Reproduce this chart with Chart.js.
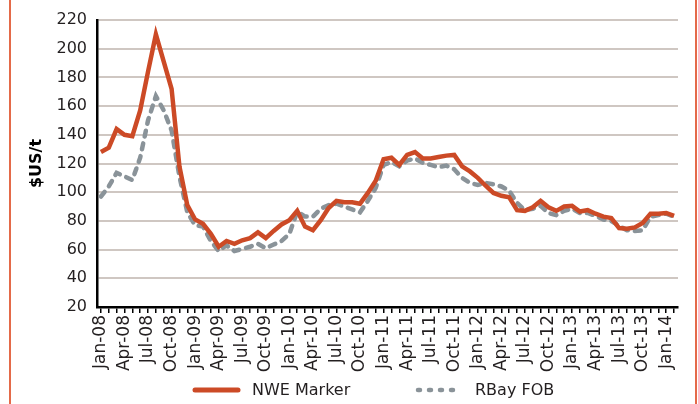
<!DOCTYPE html>
<html>
  <head>
    <meta charset="utf-8">
    <title>NWE Marker vs RBay FOB</title>
    <script src="https://cdn.jsdelivr.net/npm/chart.js@4.4.1/dist/chart.umd.min.js"></script>
    <style>
      html, body { margin: 0; padding: 0; background: #fff; }
      #wrap { position: relative; width: 698px; height: 404px; }
      .edge { position: absolute; top: 0; width: 2px; height: 404px; background: #e46a49; }
    </style>
  </head>
  <body>
    <div id="wrap">
      <canvas id="myChart" width="698" height="404"></canvas>
      <div class="edge" style="left: 9px"></div>
      <div class="edge" style="left: 695px"></div>
    </div>

    <script>
      // monthly labels Jan-08 .. Feb-14
      const months = ['Jan', 'Feb', 'Mar', 'Apr', 'May', 'Jun', 'Jul', 'Aug', 'Sep', 'Oct', 'Nov', 'Dec'];
      const years = ['08', '09', '10', '11', '12', '13', '14'];
      const labels = [];
      years.forEach(y => months.forEach(m => labels.push(m + '-' + y)));
      labels.length = 74;

      const nweMarker = [
        128, 131, 144, 140, 139, 157, 184, 210, 191, 172, 118, 91,
        81, 78, 71, 62, 66, 64, 66.5, 68, 72, 68, 73, 77.5,
        80.5, 87, 76, 73.5, 80.5, 89, 94, 93, 93, 92, 99.5, 108,
        123, 124, 119, 126, 128, 123.5, 123.5, 124.5, 125.5, 126, 118, 114.5,
        110, 104.5, 99.5, 97.5, 96.5, 87.5, 87, 89.5, 94, 89.5, 87, 90,
        90.5, 86.5, 87.5, 85, 83, 82, 75, 74.5, 75.5, 78.5, 85, 85,
        85.5, 83.5
      ];
      const rbayFob = [
        97, 104, 113.5, 111, 108.5, 124, 150, 167, 157, 143, 111, 86,
        77, 76, 66, 59, 63, 59, 60.5, 62, 64, 61, 63.5, 66,
        71, 86.5, 83, 83, 88.5, 91, 92, 90, 88, 86, 94, 103,
        119, 121, 118, 122, 123.5, 120.5, 119, 117.5, 118.5, 116, 110, 106.5,
        105, 106.5, 105.5, 104, 101, 92.5, 87.5, 88.5, 90.5, 85.5, 84, 87,
        88.5, 85.5, 85.5, 83.5, 81, 80, 76.5, 73.5, 73, 73.5, 83, 84,
        85, 83
      ];

      const orange = '#cc4a26';
      const grey = '#8a9399';
      const font = 'DejaVu Sans';

      // legend drawn at the bottom like the original
      const legendPlugin = {
        id: 'bottomLegend',
        afterDraw(chart) {
          const c = chart.ctx;
          c.save();
          c.lineCap = 'round';
          c.lineWidth = 5;
          c.strokeStyle = orange;
          c.beginPath(); c.moveTo(195, 390); c.lineTo(238, 390); c.stroke();
          c.strokeStyle = grey;
          c.lineWidth = 4.5;
          c.setLineDash([2, 9]);
          c.beginPath(); c.moveTo(418, 390); c.lineTo(458, 390); c.stroke();
          c.setLineDash([]);
          c.fillStyle = '#231f20';
          c.font = '16px "' + font + '"';
          c.textBaseline = 'middle';
          c.fillText('NWE Marker', 252, 391);
          c.fillText('RBay FOB', 475, 391);
          c.restore();
        }
      };

      const ctx = document.getElementById('myChart').getContext('2d');
      const myChart = new Chart(ctx, {
        type: 'line',
        data: {
          labels: labels,
          datasets: [{
            label: 'NWE Marker',
            data: nweMarker,
            borderColor: orange,
            borderWidth: 4.5,
            pointRadius: 0,
            tension: 0
          }, {
            label: 'RBay FOB',
            data: rbayFob,
            borderColor: grey,
            borderWidth: 4.5,
            borderDash: [6, 7],
            borderCapStyle: 'round',
            pointRadius: 0,
            tension: 0
          }]
        },
        options: {
          responsive: false,
          devicePixelRatio: 1,
          animation: false,
          layout: { padding: { left: 0, right: 20, top: 20, bottom: 0 } },
          plugins: { legend: { display: false }, tooltip: { enabled: false } },
          scales: {
            x: {
              offset: true,
              border: { color: '#000', width: 2.5 },
              grid: { drawOnChartArea: false, drawTicks: true, tickLength: 6, color: '#000', lineWidth: 1.5 },
              ticks: {
                autoSkip: false,
                maxRotation: 90,
                minRotation: 90,
                padding: 2,
                color: '#231f20',
                font: { family: font, size: 17 },
                callback: function (v, i) { return i % 3 === 0 ? labels[i] : ''; }
              },
              afterFit: function (scale) { scale.height = 97; }
            },
            y: {
              min: 20,
              max: 220,
              border: { color: '#000', width: 2.5 },
              grid: { color: '#cfc7c2', lineWidth: 2, drawTicks: false },
              ticks: {
                stepSize: 20,
                padding: 10,
                color: '#231f20',
                font: { family: font, size: 16 }
              },
              title: {
                display: true,
                text: '$US/t',
                color: '#000',
                font: { family: font, size: 16, weight: 'bold' },
                padding: { top: 27, bottom: 0 }
              },
              afterFit: function (scale) { scale.width = 97; }
            }
          }
        },
        plugins: [legendPlugin]
      });
    </script>
  </body>
</html>
